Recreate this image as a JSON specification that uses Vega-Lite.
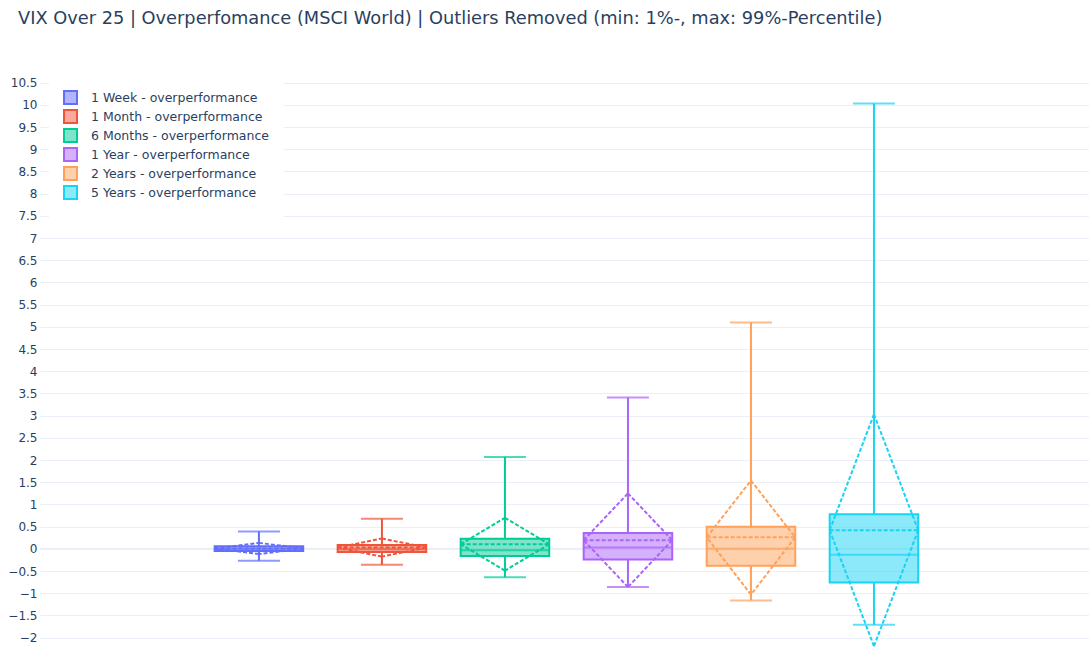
{
  "$schema": "https://vega.github.io/schema/vega-lite/v6.json",
  "width": 1049,
  "height": 571,
  "autosize": {"type": "none"},
  "padding": {"left": 40, "top": 76, "right": 0, "bottom": 0},
  "background": "white",
  "title": {
    "text": "VIX Over 25 | Overperfomance (MSCI World) | Outliers Removed (min: 1%-, max: 99%-Percentile)",
    "anchor": "start",
    "frame": "group",
    "dx": -22,
    "offset": 48,
    "font": "DejaVu Sans",
    "fontSize": 17.8,
    "fontWeight": "normal",
    "color": "#2a3f5f"
  },
  "config": {"view": {"stroke": null}, "font": "DejaVu Sans"},
  "data": {
    "values": [
      {"series": "1 Week - overperformance", "lo": -0.27, "q1": -0.05, "med": 0.0, "q3": 0.06, "hi": 0.39, "mean": 0.01, "sdTop": 0.135, "sdBot": -0.115},
      {"series": "1 Month - overperformance", "lo": -0.36, "q1": -0.07, "med": -0.01, "q3": 0.09, "hi": 0.68, "mean": 0.03, "sdTop": 0.235, "sdBot": -0.175},
      {"series": "6 Months - overperformance", "lo": -0.64, "q1": -0.16, "med": -0.03, "q3": 0.23, "hi": 2.07, "mean": 0.105, "sdTop": 0.7, "sdBot": -0.49},
      {"series": "1 Year - overperformance", "lo": -0.86, "q1": -0.24, "med": 0.03, "q3": 0.36, "hi": 3.41, "mean": 0.195, "sdTop": 1.25, "sdBot": -0.86},
      {"series": "2 Years - overperformance", "lo": -1.16, "q1": -0.38, "med": 0.0, "q3": 0.5, "hi": 5.1, "mean": 0.26, "sdTop": 1.54, "sdBot": -1.03},
      {"series": "5 Years - overperformance", "lo": -1.71, "q1": -0.76, "med": -0.13, "q3": 0.78, "hi": 10.03, "mean": 0.42, "sdTop": 3.03, "sdBot": -2.19}
    ]
  },
  "encoding": {
    "x": {
      "field": "series",
      "type": "nominal",
      "scale": {
        "domain": [" ", "1 Week - overperformance", "1 Month - overperformance", "6 Months - overperformance", "1 Year - overperformance", "2 Years - overperformance", "5 Years - overperformance", "  "],
        "paddingInner": 0,
        "paddingOuter": 0.264,
        "align": 0.53
      },
      "axis": null
    },
    "color": {
      "field": "series",
      "type": "nominal",
      "scale": {
        "domain": ["1 Week - overperformance", "1 Month - overperformance", "6 Months - overperformance", "1 Year - overperformance", "2 Years - overperformance", "5 Years - overperformance"],
        "range": ["#636efa", "#EF553B", "#00cc96", "#ab63fa", "#FFA15A", "#19d3f3"]
      },
      "legend": {
        "title": null,
        "orient": "none",
        "legendX": 9,
        "legendY": 0,
        "padding": 14,
        "fillColor": "white",
        "symbolType": "square",
        "symbolSize": 169,
        "symbolStrokeWidth": 2,
        "labelFont": "DejaVu Sans",
        "labelFontSize": 12.5,
        "labelColor": "#2a3f5f",
        "labelOffset": 13,
        "labelLimit": 400,
        "rowPadding": -2,
        "encode": {
          "symbols": {
            "update": {
              "fill": {"scale": "color", "field": "value"},
              "fillOpacity": {"value": 0.5},
              "stroke": {"scale": "color", "field": "value"},
              "strokeWidth": {"value": 2},
              "opacity": {"value": 1}
            }
          }
        }
      }
    }
  },
  "layer": [
    {
      "data": {"values": [{"zero": 0}]},
      "mark": {"type": "rule", "strokeWidth": 2, "color": "#EBF0F8"},
      "encoding": {
        "x": null,
        "color": null,
        "y": {
          "field": "zero",
          "type": "quantitative",
          "scale": {"domain": [-2.21, 10.65], "nice": false, "zero": false},
          "axis": {
            "title": null,
            "values": [-2, -1.5, -1, -0.5, 0, 0.5, 1, 1.5, 2, 2.5, 3, 3.5, 4, 4.5, 5, 5.5, 6, 6.5, 7, 7.5, 8, 8.5, 9, 9.5, 10, 10.5],
            "tickCount": 26,
            "format": ".1~f",
            "domain": false,
            "ticks": false,
            "labelOverlap": false,
            "labelPadding": 3,
            "labelFont": "DejaVu Sans",
            "labelFontSize": 12,
            "labelColor": "#2a3f5f",
            "grid": true,
            "gridColor": "#EBF0F8",
            "gridWidth": 1
          }
        }
      }
    },
    {
      "mark": {"type": "rule", "strokeWidth": 2, "clip": true},
      "encoding": {
        "y": {"field": "lo", "type": "quantitative"},
        "y2": {"field": "q1"}
      }
    },
    {
      "mark": {"type": "rule", "strokeWidth": 2, "clip": true},
      "encoding": {
        "y": {"field": "q3", "type": "quantitative"},
        "y2": {"field": "hi"}
      }
    },
    {
      "mark": {"type": "bar", "width": {"band": 0.72}, "fillOpacity": 0.5, "strokeWidth": 0, "clip": true},
      "encoding": {
        "y": {"field": "q1", "type": "quantitative"},
        "y2": {"field": "q3"}
      }
    },
    {
      "mark": {"type": "bar", "width": {"band": 0.72}, "filled": false, "strokeWidth": 2, "clip": true},
      "encoding": {
        "y": {"field": "q1", "type": "quantitative"},
        "y2": {"field": "q3"}
      }
    },
    {
      "mark": {"type": "tick", "size": 88, "thickness": 2, "clip": true},
      "encoding": {"y": {"field": "med", "type": "quantitative"}}
    },
    {
      "mark": {"type": "tick", "size": 42, "thickness": 2, "clip": true},
      "encoding": {"y": {"field": "lo", "type": "quantitative"}}
    },
    {
      "mark": {"type": "tick", "size": 42, "thickness": 2, "clip": true},
      "encoding": {"y": {"field": "hi", "type": "quantitative"}}
    },
    {
      "mark": {"type": "rule", "strokeWidth": 2, "strokeDash": [4, 2], "clip": true},
      "encoding": {
        "x": {"field": "series", "type": "nominal", "bandPosition": 0.14},
        "x2": {"field": "series", "bandPosition": 0.86},
        "y": {"field": "mean", "type": "quantitative"},
        "y2": {"field": "mean"}
      }
    },
    {
      "mark": {"type": "rule", "strokeWidth": 2, "strokeDash": [4, 2], "clip": true},
      "encoding": {
        "x": {"field": "series", "type": "nominal", "bandPosition": 0.14},
        "x2": {"field": "series", "bandPosition": 0.5},
        "y": {"field": "mean", "type": "quantitative"},
        "y2": {"field": "sdTop"}
      }
    },
    {
      "mark": {"type": "rule", "strokeWidth": 2, "strokeDash": [4, 2], "clip": true},
      "encoding": {
        "x": {"field": "series", "type": "nominal", "bandPosition": 0.5},
        "x2": {"field": "series", "bandPosition": 0.86},
        "y": {"field": "sdTop", "type": "quantitative"},
        "y2": {"field": "mean"}
      }
    },
    {
      "mark": {"type": "rule", "strokeWidth": 2, "strokeDash": [4, 2], "clip": true},
      "encoding": {
        "x": {"field": "series", "type": "nominal", "bandPosition": 0.86},
        "x2": {"field": "series", "bandPosition": 0.5},
        "y": {"field": "mean", "type": "quantitative"},
        "y2": {"field": "sdBot"}
      }
    },
    {
      "mark": {"type": "rule", "strokeWidth": 2, "strokeDash": [4, 2], "clip": true},
      "encoding": {
        "x": {"field": "series", "type": "nominal", "bandPosition": 0.5},
        "x2": {"field": "series", "bandPosition": 0.14},
        "y": {"field": "sdBot", "type": "quantitative"},
        "y2": {"field": "mean"}
      }
    }
  ]
}
